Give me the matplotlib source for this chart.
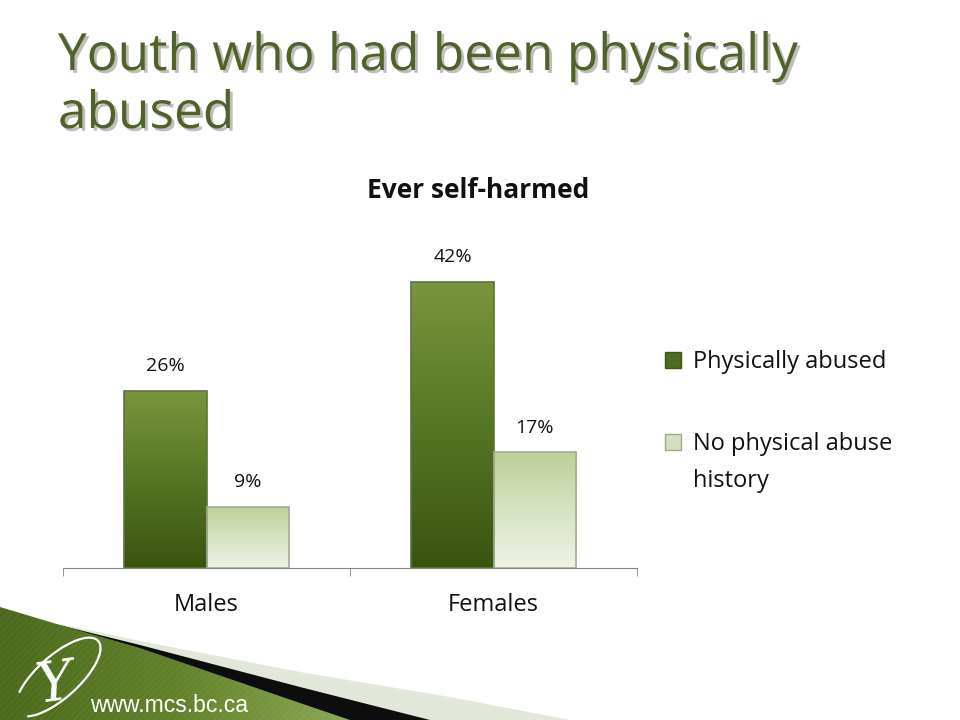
import numpy as np
import matplotlib
matplotlib.use("Agg")
import matplotlib.pyplot as plt
import matplotlib.patheffects as pe
from matplotlib.colors import LinearSegmentedColormap
from matplotlib.patches import Polygon, Arc, Patch

# data
groups = ["Males", "Females"]
abused = [26, 42]
not_abused = [9, 17]
series_names = ["Physically abused", "No physical abuse", "history"]

plt.rcParams['font.family'] = ['Open Sans', 'DejaVu Sans']

fig = plt.figure(figsize=(9.6, 7.2), dpi=100)

# background swoosh (pixel coords)
bg = fig.add_axes([0, 0, 1, 1], zorder=-1)
bg.axis('off')

gray_pts = [(60, 624), (140, 641), (300, 672), (450, 697), (570, 720), (0, 720)]
black_pts = [(55, 624), (140, 645), (300, 687), (430, 720), (0, 720)]
green_pts = [(0, 607), (60, 625), (140, 648), (300, 703), (350, 720), (0, 720)]

bg.add_patch(Polygon(gray_pts, closed=True, fc='#e1e7d9', ec='none', zorder=1))
bg.add_patch(Polygon(black_pts, closed=True, fc='#0d0d0d', ec='none', zorder=2))
green = Polygon(green_pts, closed=True, fc='none', ec='none', zorder=3)
bg.add_patch(green)
gcmap = LinearSegmentedColormap.from_list('g', ['#4a691b', '#62822a', '#8eab55'])
grad = np.linspace(0, 1, 256).reshape(1, -1)
im = bg.imshow(grad, extent=[0, 360, 720, 600], cmap=gcmap, aspect='auto', zorder=3)
im.set_clip_path(green)
bg.add_patch(Polygon(green_pts, closed=True, fc='none', ec=(1, 1, 1, 0.05),
                     hatch='/////', lw=0, zorder=4))
bg.set_xlim(0, 960)
bg.set_ylim(720, 0)

bg.add_patch(Arc((58, 677), 108, 42, angle=-42, theta1=200, theta2=170,
                 color='white', lw=1.6, zorder=5))
bg.text(54, 702, "Y", color='white', fontsize=40, family='DejaVu Serif',
        style='italic', ha='center', va='baseline', rotation=8, zorder=5)
bg.text(90, 712, "www.mcs.bc.ca", color='white', fontsize=16.5,
        family='Liberation Sans', ha='left', va='baseline', zorder=5)

# slide title
fig.text(58, 720 - 31, "Youth who had been physically\nabused", transform=None,
         fontsize=37, color='#4f6228', ha='left', va='top', linespacing=1.18,
         path_effects=[pe.SimplePatchShadow(offset=(2, -2), shadow_rgbFace='#7f7f7f',
                                            alpha=0.5), pe.Normal()])

# chart
ax = fig.add_axes([63 / 960, (720 - 568) / 720, 574 / 960, 341 / 720])
x = np.arange(len(groups))
w = 0.286
b1 = ax.bar(x - w / 2, abused, w, color='#5a7a26', edgecolor='#5f7536', lw=1.2, zorder=2)
b2 = ax.bar(x + w / 2, not_abused, w, color='#d6e2c2', edgecolor='#a3ad93', lw=1.2, zorder=2)

cm1 = LinearSegmentedColormap.from_list('d', ['#3a5410', '#557624', '#7a963c'])
cm2 = LinearSegmentedColormap.from_list('l', ['#eef3e5', '#d7e3c3', '#bdd098'])
vgrad = np.linspace(0, 1, 256).reshape(-1, 1)
for bars, cm in [(b1, cm1), (b2, cm2)]:
    for r in bars:
        x0, y0 = r.get_x(), r.get_y()
        gi = ax.imshow(vgrad, extent=[x0, x0 + r.get_width(), y0, y0 + r.get_height()],
                       origin='lower', cmap=cm, aspect='auto', zorder=2.5)
        gi.set_clip_path(r)
        r.set_zorder(3)
        r.set_facecolor('none')

for bars, vals in [(b1, abused), (b2, not_abused)]:
    for r, v in zip(bars, vals):
        ax.annotate(f"{v}%", (r.get_x() + r.get_width() / 2, v), xytext=(0, 11),
                    textcoords='offset points', ha='center', va='bottom',
                    fontsize=14, color='#111111')

ax.set_xlim(-0.5, 1.5)
ax.set_ylim(0, 50)
ax.set_xticks(x)
ax.set_xticklabels(groups, fontsize=17, color='#111111')
ax.tick_params(axis='x', which='major', length=0, pad=18)
ax.set_xticks([-0.5, 0.5, 1.5], minor=True)
ax.tick_params(axis='x', which='minor', length=6, color='#868686')
ax.set_yticks([])
for s in ['top', 'left', 'right']:
    ax.spines[s].set_visible(False)
ax.spines['bottom'].set_color('#868686')
ax.patch.set_alpha(0)

fig.text(478, 720 - 198, "Ever self-harmed", transform=None, fontsize=19,
         fontweight='bold', ha='center', va='baseline', color='#111111')

# legend; second label wraps onto a line below
handles = [Patch(fc='#4f6b1e', ec='#3f5518'), Patch(fc='#d3dfc0', ec='#a0a890')]
leg = fig.legend(handles, series_names[:2], loc='upper left',
                 bbox_to_anchor=(644 / 960, (720 - 329) / 720), frameon=False,
                 fontsize=17, handlelength=0.68, handleheight=0.68,
                 handletextpad=0.5, labelspacing=2.45)
for t in leg.get_texts():
    t.set_color('#111111')

fig.canvas.draw()
rend = fig.canvas.get_renderer()
t2 = leg.get_texts()[1]
bb = t2.get_window_extent(rend)
_, _, desc = rend.get_text_width_height_descent(t2.get_text(), t2.get_fontproperties(), ismath=False)
fig.text(bb.x0, bb.y0 + desc - 37, series_names[2], transform=None, fontsize=17,
         color='#111111', ha='left', va='baseline')

fig.savefig("out.png", dpi=100)
